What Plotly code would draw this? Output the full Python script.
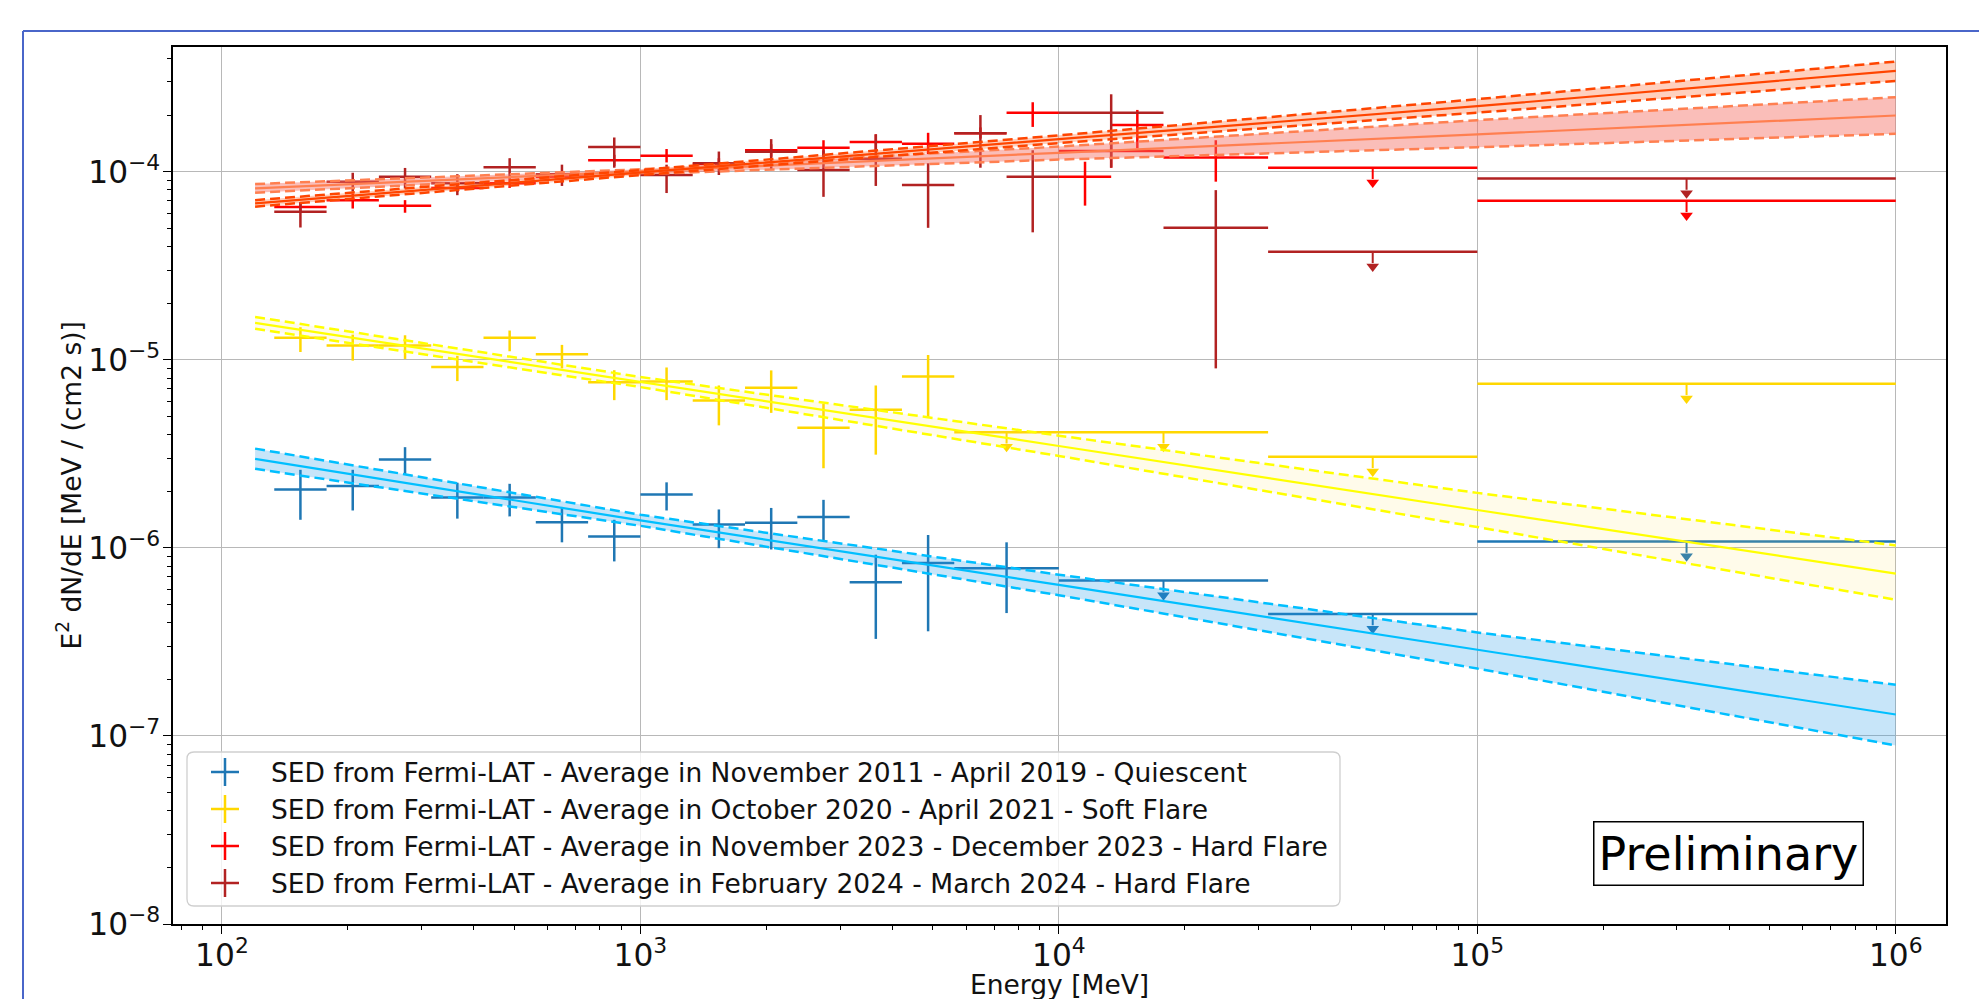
import numpy as np
import plotly.graph_objects as go

# ---------------- DATA ----------------
# Quiescent (Nov 2011 - Apr 2019)
q_e_lo = [133.35, 177.83, 237.14, 316.23, 421.70, 562.34, 749.89, 1000.0, 1333.5, 1778.3, 2371.4, 3162.3, 4217.0, 5623.4]
q_e_hi = [177.83, 237.14, 316.23, 421.70, 562.34, 749.89, 1000.0, 1333.5, 1778.3, 2371.4, 3162.3, 4217.0, 5623.4, 10000.0]
q_flux = [2.04e-6, 2.13e-6, 2.95e-6, 1.85e-6, 1.85e-6, 1.37e-6, 1.15e-6, 1.92e-6, 1.33e-6, 1.36e-6, 1.46e-6, 6.56e-7, 8.3e-7, 7.8e-7]
q_flux_hi = [2.6e-6, 2.6e-6, 3.43e-6, 2.22e-6, 2.19e-6, 1.65e-6, 1.41e-6, 2.23e-6, 1.6e-6, 1.63e-6, 1.8e-6, 9.2e-7, 1.17e-6, 1.07e-6]
q_flux_lo = [1.41e-6, 1.58e-6, 2.44e-6, 1.43e-6, 1.47e-6, 1.07e-6, 8.47e-7, 1.58e-6, 9.96e-7, 9.8e-7, 1.08e-6, 3.28e-7, 3.6e-7, 4.5e-7]
q_ul_e_lo = [10000.0, 31623.0, 100000.0]
q_ul_e_hi = [31623.0, 100000.0, 1000000.0]
q_ul = [6.7e-7, 4.45e-7, 1.08e-6]

# Soft flare (Oct 2020 - Apr 2021)
s_e_lo = [133.35, 177.83, 237.14, 316.23, 421.70, 562.34, 749.89, 1000.0, 1333.5, 1778.3, 2371.4, 3162.3, 4217.0]
s_e_hi = [177.83, 237.14, 316.23, 421.70, 562.34, 749.89, 1000.0, 1333.5, 1778.3, 2371.4, 3162.3, 4217.0, 5623.4]
s_flux = [1.31e-5, 1.19e-5, 1.19e-5, 9.14e-6, 1.31e-5, 1.07e-5, 7.6e-6, 7.67e-6, 6.08e-6, 7.1e-6, 4.35e-6, 5.42e-6, 8.15e-6]
s_flux_hi = [1.49e-5, 1.36e-5, 1.35e-5, 1.05e-5, 1.43e-5, 1.2e-5, 8.8e-6, 9.1e-6, 7.3e-6, 8.78e-6, 5.83e-6, 7.3e-6, 1.06e-5]
s_flux_lo = [1.1e-5, 9.9e-6, 1.01e-5, 7.7e-6, 1.11e-5, 9.0e-6, 6.1e-6, 6.1e-6, 4.48e-6, 5.22e-6, 2.65e-6, 3.13e-6, 4.95e-6]
s_ul_e_lo = [5623.4, 10000.0, 31623.0, 100000.0]
s_ul_e_hi = [10000.0, 31623.0, 100000.0, 1000000.0]
s_ul = [4.12e-6, 4.12e-6, 3.05e-6, 7.45e-6]

# Hard flare (Nov 2023 - Dec 2023)
h1_e_lo = [133.35, 177.83, 237.14, 316.23, 421.70, 562.34, 749.89, 1000.0, 1333.5, 1778.3, 2371.4, 3162.3, 4217.0, 5623.4, 7498.9, 10000.0, 13335.0, 10000.0, 17783.0]
h1_e_hi = [177.83, 237.14, 316.23, 421.70, 562.34, 749.89, 1000.0, 1333.5, 1778.3, 2371.4, 3162.3, 4217.0, 5623.4, 7498.9, 10000.0, 13335.0, 17783.0, 17783.0, 31623.0]
h1_flux = [6.5e-5, 7.06e-5, 6.6e-5, 8.2e-5, 8.67e-5, 9.4e-5, 1.15e-4, 1.216e-4, 1.1e-4, 1.3e-4, 1.34e-4, 1.44e-4, 1.41e-4, 1.6e-4, 2.06e-4, 9.4e-5, 1.77e-4, 1.29e-4, 1.19e-4]
h1_flux_hi = [6.9e-5, 7.66e-5, 7.06e-5, 8.6e-5, 9.2e-5, 9.9e-5, 1.23e-4, 1.32e-4, 1.18e-4, 1.4e-4, 1.47e-4, 1.58e-4, 1.61e-4, 1.72e-4, 2.34e-4, 1.13e-4, 2.13e-4, 1.6e-4, 1.47e-4]
h1_flux_lo = [6.15e-5, 6.37e-5, 6.05e-5, 7.8e-5, 8.2e-5, 8.9e-5, 1.07e-4, 1.12e-4, 1.03e-4, 1.2e-4, 1.2e-4, 1.3e-4, 1.24e-4, 1.5e-4, 1.73e-4, 6.6e-5, 1.33e-4, 1.05e-4, 8.85e-5]
h1_ul_e_lo = [31623.0, 100000.0]
h1_ul_e_hi = [100000.0, 1000000.0]
h1_ul = [1.05e-4, 7.0e-5]

# Hard flare (Feb 2024 - Mar 2024)
h2_e_lo = [133.35, 177.83, 237.14, 316.23, 421.70, 562.34, 749.89, 1000.0, 1333.5, 1778.3, 2371.4, 3162.3, 4217.0, 5623.4, 7498.9, 10000.0, 17783.0]
h2_e_hi = [177.83, 237.14, 316.23, 421.70, 562.34, 749.89, 1000.0, 1333.5, 1778.3, 2371.4, 3162.3, 4217.0, 5623.4, 7498.9, 10000.0, 17783.0, 31623.0]
h2_flux = [6.12e-5, 8.85e-5, 9.4e-5, 8.67e-5, 1.057e-4, 9.7e-5, 1.355e-4, 9.6e-5, 1.11e-4, 1.276e-4, 1.02e-4, 1.17e-4, 8.5e-5, 1.6e-4, 9.4e-5, 2.06e-4, 5.04e-5]
h2_flux_hi = [6.9e-5, 9.87e-5, 1.047e-4, 9.7e-5, 1.18e-4, 1.09e-4, 1.52e-4, 1.09e-4, 1.28e-4, 1.49e-4, 1.3e-4, 1.58e-4, 1.11e-4, 2.0e-4, 1.3e-4, 2.58e-4, 7.98e-5]
h2_flux_lo = [5.05e-5, 7.85e-5, 8.15e-5, 7.5e-5, 9.2e-5, 8.4e-5, 1.05e-4, 7.7e-5, 9.6e-5, 1.02e-4, 7.35e-5, 8.4e-5, 5.03e-5, 1.05e-4, 4.76e-5, 1.05e-4, 9.0e-6]
h2_ul_e_lo = [31623.0, 100000.0]
h2_ul_e_hi = [100000.0, 1000000.0]
h2_ul = [3.75e-5, 9.2e-5]

# Power-law model butterflies (read at these energies)
model_e = [120.0, 1000.0, 10000.0, 100000.0, 1000000.0]
q_mod = [2.97e-6, 1.40e-6, 6.35e-7, 2.88e-7, 1.30e-7]
q_mod_hi = [3.37e-6, 1.50e-6, 7.2e-7, 3.55e-7, 1.87e-7]
q_mod_lo = [2.63e-6, 1.31e-6, 5.6e-7, 2.28e-7, 8.9e-8]
s_mod = [1.57e-5, 7.6e-6, 3.48e-6, 1.59e-6, 7.3e-7]
s_mod_hi = [1.69e-5, 8.1e-6, 3.95e-6, 1.96e-6, 1.03e-6]
s_mod_lo = [1.46e-5, 7.16e-6, 3.08e-6, 1.29e-6, 5.3e-7]
h1_mod = [6.78e-5, 9.9e-5, 1.49e-4, 2.23e-4, 3.44e-4]
h1_mod_hi = [7.06e-5, 1.02e-4, 1.56e-4, 2.43e-4, 3.85e-4]
h1_mod_lo = [6.52e-5, 9.6e-5, 1.42e-4, 2.06e-4, 3.04e-4]
h2_mod = [8.15e-5, 1.0e-4, 1.26e-4, 1.58e-4, 1.99e-4]
h2_mod_hi = [8.6e-5, 1.03e-4, 1.36e-4, 1.88e-4, 2.49e-4]
h2_mod_lo = [7.73e-5, 9.7e-5, 1.16e-4, 1.35e-4, 1.59e-4]

labels = [
    "SED from Fermi-LAT - Average in November 2011 - April 2019 - Quiescent",
    "SED from Fermi-LAT - Average in October 2020 - April 2021 - Soft Flare",
    "SED from Fermi-LAT - Average in November 2023 - December 2023 - Hard Flare",
    "SED from Fermi-LAT - Average in February 2024 - March 2024 - Hard Flare",
]
x_title = "Energy [MeV]"
y_title = "E<sup>2</sup> dN/dE [MeV / (cm2 s)]"

# ---------------- STYLE ----------------
C_Q = "#1f77b4"
C_S = "#FFD700"
C_H1 = "#FF0000"
C_H2 = "#B22222"
FONT = "DejaVu Sans"
FS = 26.5
TFS = 25
LW = 2.5

W, H = 1979, 999
ML, MR, MT, MB = 173, 33, 47, 75
PW, PH = W - ML - MR, H - MT - MB


def px_to_paper(xp, yp):
    return (xp - ML) / PW, (H - MB - yp) / PH


fig = go.Figure()


def add_model(e, mid, lo, hi, lcolor, fcolor):
    fig.add_trace(go.Scatter(x=e, y=lo, mode="lines", line=dict(color=lcolor, width=2.5, dash="10px,5px"),
                             hoverinfo="skip"))
    fig.add_trace(go.Scatter(x=e, y=hi, mode="lines", line=dict(color=lcolor, width=2.5, dash="10px,5px"),
                             fill="tonexty", fillcolor=fcolor, hoverinfo="skip"))
    fig.add_trace(go.Scatter(x=e, y=mid, mode="lines", line=dict(color=lcolor, width=2.2),
                             hoverinfo="skip"))


def add_points(elo, ehi, f, flo, fhi, color):
    elo, ehi, f, flo, fhi = map(np.asarray, (elo, ehi, f, flo, fhi))
    ec = np.sqrt(elo * ehi)
    fig.add_trace(go.Scatter(
        x=ec, y=f, mode="markers", marker=dict(size=1, color=color, opacity=0),
        error_x=dict(type="data", symmetric=False, array=ehi - ec, arrayminus=ec - elo,
                     color=color, thickness=LW, width=0),
        error_y=dict(type="data", symmetric=False, array=fhi - f, arrayminus=f - flo,
                     color=color, thickness=LW, width=0),
        hoverinfo="skip"))


def add_uls(elo, ehi, f, color):
    elo, ehi, f = map(np.asarray, (elo, ehi, f))
    ec = np.sqrt(elo * ehi)
    stem = f * (1 - 10 ** -0.06)
    fig.add_trace(go.Scatter(
        x=ec, y=f, mode="markers", marker=dict(size=1, color=color, opacity=0),
        error_x=dict(type="data", symmetric=False, array=ehi - ec, arrayminus=ec - elo,
                     color=color, thickness=LW, width=0),
        error_y=dict(type="data", symmetric=False, array=np.zeros_like(f), arrayminus=stem,
                     color=color, thickness=2, width=0),
        hoverinfo="skip"))
    fig.add_trace(go.Scatter(
        x=ec, y=f * 10 ** -0.078, mode="markers",
        marker=dict(symbol="triangle-down", size=11, color=color, line=dict(width=0)),
        hoverinfo="skip"))


# data points
add_points(q_e_lo, q_e_hi, q_flux, q_flux_lo, q_flux_hi, C_Q)
add_uls(q_ul_e_lo, q_ul_e_hi, q_ul, C_Q)
add_points(s_e_lo, s_e_hi, s_flux, s_flux_lo, s_flux_hi, C_S)
add_uls(s_ul_e_lo, s_ul_e_hi, s_ul, C_S)
add_points(h1_e_lo, h1_e_hi, h1_flux, h1_flux_lo, h1_flux_hi, C_H1)
add_uls(h1_ul_e_lo, h1_ul_e_hi, h1_ul, C_H1)
add_points(h2_e_lo, h2_e_hi, h2_flux, h2_flux_lo, h2_flux_hi, C_H2)
add_uls(h2_ul_e_lo, h2_ul_e_hi, h2_ul, C_H2)

# models
add_model(model_e, q_mod, q_mod_lo, q_mod_hi, "#00BFFF", "rgba(30,150,230,0.25)")
add_model(model_e, s_mod, s_mod_lo, s_mod_hi, "#FFFF00", "rgba(255,225,80,0.12)")
add_model(model_e, h2_mod, h2_mod_lo, h2_mod_hi, "#FF7F50", "rgba(245,110,100,0.45)")
add_model(model_e, h1_mod, h1_mod_lo, h1_mod_hi, "#FF4500", "rgba(255,120,70,0.35)")

axis_common = dict(
    type="log", showgrid=True, gridcolor="#b8b8b8", gridwidth=1.2,
    ticks="outside", ticklen=8, tickwidth=1.4, tickcolor="black",
    showline=True, linecolor="black", linewidth=1.5, mirror=True,
    exponentformat="power", dtick=1, zeroline=False, automargin=False,
    tickfont=dict(family=FONT, size=TFS, color="#111"),
    minor=dict(ticks="outside", ticklen=4.5, tickwidth=1.1, tickcolor="black", dtick="D1", showgrid=False),
)

fig.update_layout(
    width=W, height=H,
    margin=dict(l=ML, r=MR, t=MT, b=MB, autoexpand=False),
    paper_bgcolor="white", plot_bgcolor="white",
    font=dict(family=FONT, size=FS, color="#111"),
    xaxis=dict(axis_common, range=[1.883, 6.12], ticklabelstandoff=-4),
    yaxis=dict(axis_common, range=[-8, -3.337], ticklabelstandoff=-2),
    showlegend=False,
)

# axis titles
tx_, ty_ = px_to_paper(1059.5, 985)
fig.add_annotation(x=tx_, y=ty_, xref="paper", yref="paper", text=x_title, showarrow=False,
                   xanchor="center", yanchor="middle", font=dict(family=FONT, size=FS, color="#111"))
tx_, ty_ = px_to_paper(69.5, 486)
fig.add_annotation(x=tx_, y=ty_, xref="paper", yref="paper", text=y_title, showarrow=False,
                   textangle=-90, xanchor="center", yanchor="middle",
                   font=dict(family=FONT, size=FS, color="#111"))

# ---- legend (box, cross handles, labels) ----
bx0, by1 = px_to_paper(187, 752)
bx1, by0 = px_to_paper(1340, 906)
rx, ry = 7 / PW, 7 / PH
path = (f"M {bx0+rx},{by0} L {bx1-rx},{by0} Q {bx1},{by0} {bx1},{by0+ry} "
        f"L {bx1},{by1-ry} Q {bx1},{by1} {bx1-rx},{by1} L {bx0+rx},{by1} "
        f"Q {bx0},{by1} {bx0},{by1-ry} L {bx0},{by0+ry} Q {bx0},{by0} {bx0+rx},{by0} Z")
fig.add_shape(type="path", xref="paper", yref="paper", path=path, layer="above",
              fillcolor="rgba(255,255,255,0.8)", line=dict(color="#cfcfcf", width=1.3))

row_y = [772, 809, 846, 883]
cross_x, cross_half, text_x = 225, 14, 269
for lab, col, yy in zip(labels, [C_Q, C_S, C_H1, C_H2], row_y):
    cx0, cy = px_to_paper(cross_x - cross_half, yy)
    cx1, _ = px_to_paper(cross_x + cross_half, yy)
    cxm, cyt = px_to_paper(cross_x, yy - cross_half)
    _, cyb = px_to_paper(cross_x, yy + cross_half)
    fig.add_shape(type="line", xref="paper", yref="paper", x0=cx0, x1=cx1, y0=cy, y1=cy,
                  line=dict(color=col, width=2.5), layer="above")
    fig.add_shape(type="line", xref="paper", yref="paper", x0=cxm, x1=cxm, y0=cyb, y1=cyt,
                  line=dict(color=col, width=2.5), layer="above")
    tx, ty = px_to_paper(text_x, yy)
    fig.add_annotation(x=tx, y=ty, xref="paper", yref="paper", text=lab, showarrow=False,
                       xanchor="left", yanchor="middle",
                       font=dict(family=FONT, size=FS, color="#111"))

# Preliminary label
px_, py_ = px_to_paper(1728, 853)
fig.add_annotation(x=px_, y=py_, xref="paper", yref="paper", text="Preliminary", showarrow=False,
                   xanchor="center", yanchor="middle",
                   font=dict(family=FONT, size=46, color="black"),
                   bordercolor="black", borderwidth=1.5, borderpad=4, bgcolor="white")

# slide frame (blue border)
fx, fy = px_to_paper(23, 31)
fig.add_shape(type="line", xref="paper", yref="paper", x0=fx, x1=1.1, y0=fy, y1=fy,
              line=dict(color="#4a66c9", width=2))
fig.add_shape(type="line", xref="paper", yref="paper", x0=fx, x1=fx, y0=fy, y1=-0.2,
              line=dict(color="#4a66c9", width=2))

fig.write_html("out.html")
